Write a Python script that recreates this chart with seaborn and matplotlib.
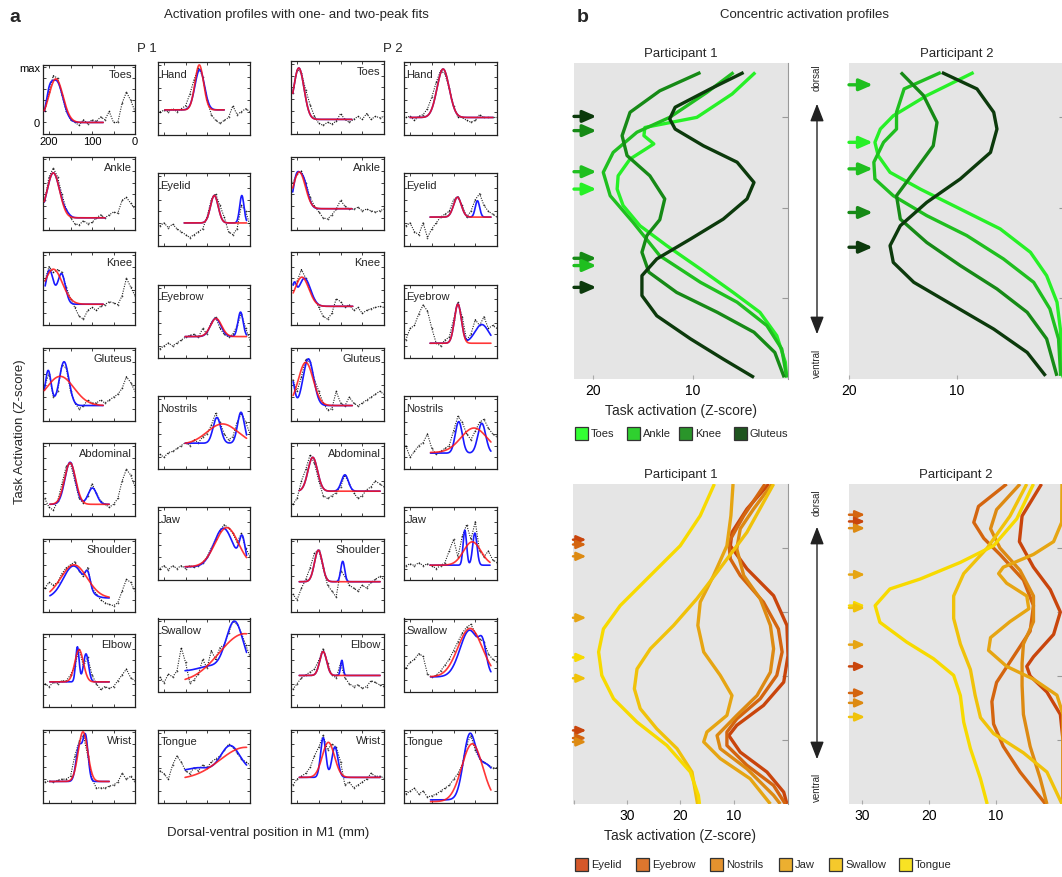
import numpy as np
import matplotlib
matplotlib.use("Agg")
import matplotlib.pyplot as plt
import seaborn as sns
from matplotlib.patches import Rectangle, FancyArrowPatch

# ======================= DATA : panel a =======================
POS_MM = [210, 200, 190, 180, 170, 160, 150, 140, 130, 120, 110,
          100, 90, 80, 70, 60, 50, 40, 30, 20, 10, 0]

BODY_NAMES = ["Toes", "Ankle", "Knee", "Gluteus", "Abdominal", "Shoulder", "Elbow", "Wrist"]
FACE_NAMES = ["Hand", "Eyelid", "Eyebrow", "Nostrils", "Jaw", "Swallow", "Tongue"]

# --- Participant 1, body column (profiles in normalised units, 0 = baseline, 1 = max)
P1_BODY_PROFILES = [
    [0.2, 0.55, 0.85, 0.8, 0.5, 0.2, 0.05, 0.0, -0.05, 0.05, -0.02, 0.05, 0.02, 0.1, 0.05, 0.2, 0.0, 0.0, 0.35, 0.55, 0.4, 0.2],
    [0.3, 0.7, 0.85, 0.7, 0.4, 0.15, 0.0, -0.1, -0.12, -0.05, -0.1, -0.08, 0.0, 0.05, 0.0, 0.05, 0.1, 0.08, 0.3, 0.35, 0.25, 0.15],
    [0.55, 0.8, 0.7, 0.75, 0.7, 0.45, 0.25, 0.1, -0.05, -0.1, 0.05, 0.1, 0.05, 0.12, 0.15, 0.2, 0.18, 0.15, 0.3, 0.6, 0.45, 0.3],
    [0.4, 0.6, 0.2, 0.3, 0.75, 0.7, 0.3, 0.1, 0.0, 0.05, 0.15, 0.1, 0.1, 0.15, 0.1, 0.15, 0.2, 0.25, 0.35, 0.55, 0.45, 0.3],
    [0.1, -0.05, -0.1, 0.05, 0.35, 0.65, 0.7, 0.4, 0.1, 0.02, 0.15, 0.35, 0.2, 0.05, 0.0, -0.05, 0.0, 0.1, 0.4, 0.6, 0.5, 0.3],
    [0.2, 0.3, 0.25, 0.3, 0.45, 0.55, 0.6, 0.65, 0.5, 0.4, 0.55, 0.2, 0.1, 0.0, -0.05, -0.08, -0.1, -0.05, 0.15, 0.35, 0.3, 0.15],
    [0.2, 0.15, 0.22, 0.2, 0.25, 0.25, 0.35, 0.5, 0.8, 0.5, 0.65, 0.35, 0.2, 0.1, 0.15, 0.12, 0.15, 0.25, 0.35, 0.45, 0.3, 0.25],
    [0.15, 0.17, 0.15, 0.18, 0.2, 0.2, 0.25, 0.6, 0.85, 0.95, 0.6, 0.2, 0.05, 0.05, 0.05, 0.08, 0.1, 0.15, 0.3, 0.2, 0.25, 0.15],
]
# one-peak fits: baseline, amplitude, centre (mm), width (mm)
P1_BODY_RED = [
    [0, 0.79, 184, 16.6], [0, 0.77, 190, 14.7], [0.156, 0.6, 190, 21], [0.056, 0.5, 174, 32],
    [0, 0.71, 151, 13], [0.03, 0.57, 142, 30.7], [0.23, 0.55, 130, 10], [0.16, 0.85, 121, 11],
]
# two-peak fits: baseline, amp1, centre1, width1, amp2, centre2, width2
P1_BODY_BLUE = [
    [0, 0.75, 183, 15, 0.25, 200, 7], [0, 0.77, 190, 14.5, 0.05, 160, 8],
    [0.156, 0.58, 199, 9, 0.52, 171, 9], [0.056, 0.6, 202, 7, 0.75, 165, 11],
    [0, 0.72, 151, 12, 0.28, 99, 10], [0.03, 0.55, 143, 24, 0.25, 110, 6],
    [0.23, 0.6, 134, 4, 0.48, 114, 6], [0.16, 0.6, 130, 7, 0.75, 115, 6],
]
P1_BODY_RANGE = [[211, 74], [211, 70], [209, 74], [211, 74], [198, 60], [198, 60], [198, 60], [198, 60]]

# --- Participant 1, face column
P1_FACE_PROFILES = [
    [0.2, 0.22, 0.2, 0.25, 0.2, 0.25, 0.3, 0.5, 0.75, 0.95, 0.8, 0.4, 0.15, 0.05, 0.0, 0.05, 0.1, 0.3, 0.15, 0.2, 0.25, 0.2],
    [0.15, 0.2, 0.12, 0.18, 0.1, 0.05, 0.0, -0.05, 0.0, 0.05, 0.1, 0.3, 0.6, 0.7, 0.5, 0.3, 0.05, 0.0, 0.1, 0.5, 0.4, 0.15],
    [-0.05, 0.0, 0.05, 0.0, 0.05, 0.1, 0.15, 0.18, 0.2, 0.15, 0.3, 0.2, 0.4, 0.5, 0.3, 0.2, 0.15, 0.2, 0.35, 0.55, 0.3, 0.1],
    [0.05, 0.0, 0.08, 0.1, 0.15, 0.2, 0.25, 0.2, 0.3, 0.25, 0.35, 0.4, 0.55, 0.75, 0.6, 0.4, 0.3, 0.35, 0.6, 0.75, 0.6, 0.4],
    [0.0, 0.05, -0.02, 0.05, 0.0, 0.05, 0.0, 0.05, 0.02, 0.05, 0.1, 0.2, 0.35, 0.5, 0.65, 0.75, 0.7, 0.6, 0.45, 0.6, 0.35, 0.2],
    [0.05, -0.05, 0.1, 0.05, 0.15, 0.55, 0.3, -0.05, 0.0, 0.1, 0.35, 0.2, 0.5, 0.35, 0.55, 0.6, 0.8, 1.0, 0.95, 0.8, 0.6, 0.4],
    [0.35, 0.3, 0.2, 0.45, 0.6, 0.5, 0.35, 0.3, 0.4, 0.35, 0.45, 0.4, 0.5, 0.55, 0.6, 0.7, 0.8, 0.75, 0.65, 0.55, 0.5, 0.45],
]
P1_FACE_RED = [
    [0.23, 0.77, 118, 10], [0.2, 0.47, 83, 9], [0.16, 0.31, 79, 13], [0.22, 0.35, 64, 36],
    [0.03, 0.67, 54, 27], [-0.05, 0.84, 12, 60], [0.2, 0.55, 10, 60],
]
P1_FACE_BLUE = [
    [0.23, 0.69, 117, 11, 0.0, 60, 5], [0.2, 0.47, 83, 9, 0.47, 19, 5],
    [0.16, 0.31, 80, 12, 0.42, 22, 6], [0.24, 0.44, 77, 9, 0.53, 21, 8],
    [0.03, 0.66, 62, 22, 0.45, 18, 7], [0.15, 0.85, 36, 20, 0.08, 95, 25],
    [0.35, 0.43, 46, 22, 0.05, 120, 20],
]
P1_FACE_RANGE = [[198, 60], [153, 8], [151, 8], [151, 8], [151, 8], [151, 8], [151, 8]]

# --- Participant 2, body column
P2_BODY_PROFILES = [
    [0.5, 0.9, 0.85, 0.55, 0.3, 0.1, -0.02, -0.05, 0.0, -0.03, 0.02, 0.15, 0.05, 0.0, 0.05, 0.1, 0.05, 0.15, 0.05, 0.1, 0.08, 0.1],
    [0.6, 0.75, 0.8, 0.6, 0.35, 0.2, 0.1, 0.0, -0.02, 0.05, 0.15, 0.3, 0.2, 0.15, 0.15, 0.18, 0.12, 0.15, 0.12, 0.1, 0.12, 0.15],
    [0.5, 0.55, 0.75, 0.6, 0.4, 0.25, 0.1, -0.05, -0.1, 0.0, 0.25, 0.2, 0.1, 0.15, 0.05, 0.1, 0.0, 0.05, 0.08, 0.1, 0.12, 0.1],
    [0.5, 0.3, 0.55, 0.85, 0.8, 0.5, 0.3, 0.1, -0.02, 0.0, 0.3, 0.1, 0.05, 0.2, 0.1, 0.05, 0.1, 0.15, 0.2, 0.25, 0.3, 0.25],
    [0.0, 0.1, 0.4, 0.6, 0.85, 0.7, 0.4, 0.15, 0.1, 0.15, 0.2, 0.3, 0.5, 0.35, 0.2, 0.1, 0.15, 0.25, 0.3, 0.4, 0.35, 0.3],
    [0.1, 0.0, 0.2, 0.35, 0.55, 0.8, 0.85, 0.55, 0.25, 0.15, 0.05, 0.5, 0.4, 0.25, 0.2, 0.15, 0.25, 0.2, 0.3, 0.35, 0.4, 0.35],
    [0.1, 0.2, 0.3, 0.35, 0.4, 0.45, 0.6, 0.8, 0.55, 0.35, 0.3, 0.55, 0.3, 0.2, 0.15, 0.18, 0.12, 0.15, 0.25, 0.22, 0.18, 0.15],
    [0.1, 0.2, 0.25, 0.3, 0.4, 0.6, 0.75, 0.95, 0.7, 0.8, 0.75, 0.5, 0.1, 0.15, 0.05, 0.1, 0.15, 0.2, 0.3, 0.25, 0.25, 0.22],
]
P2_BODY_RED = [
    [0.05, 0.88, 196, 12], [0.156, 0.63, 195, 14], [0.12, 0.5, 189, 16], [0.056, 0.74, 180, 17],
    [0.225, 0.58, 164, 11], [0.31, 0.54, 151, 9], [0.34, 0.41, 140, 8], [0.23, 0.6, 128, 14],
]
P2_BODY_BLUE = [
    [0.05, 0.88, 196, 12, 0.0, 150, 5], [0.156, 0.35, 203, 7, 0.55, 188, 11],
    [0.12, 0.48, 183, 14, 0.3, 207, 5], [0.056, 0.8, 174, 12, 0.45, 212, 6],
    [0.225, 0.58, 164, 11, 0.28, 90, 8], [0.31, 0.54, 151, 9, 0.35, 95, 4.5],
    [0.34, 0.41, 140, 8, 0.26, 97, 3], [0.23, 0.68, 140, 6, 0.52, 113, 7],
]
P2_BODY_RANGE = [[210, 74], [210, 74], [209, 72], [209, 73], [195, 9], [195, 9], [195, 9], [195, 9]]

# --- Participant 2, face column
P2_FACE_PROFILES = [
    [0.1, 0.12, 0.05, 0.12, 0.15, 0.25, 0.45, 0.7, 0.9, 0.85, 0.6, 0.3, 0.1, 0.1, 0.05, 0.02, 0.05, 0.15, 0.1, 0.1, 0.1, 0.1],
    [0.15, 0.2, 0.05, 0.0, 0.2, -0.05, 0.1, 0.2, 0.3, 0.35, 0.4, 0.6, 0.65, 0.5, 0.3, 0.4, 0.6, 0.7, 0.5, 0.4, 0.35, 0.3],
    [0.1, 0.3, 0.35, 0.55, 0.7, 0.6, 0.3, 0.05, 0.0, 0.1, 0.15, 0.45, 0.75, 0.5, 0.1, 0.2, 0.45, 0.35, 0.5, 0.3, 0.35, 0.3],
    [0.2, 0.0, 0.1, 0.2, 0.25, 0.4, 0.15, 0.05, 0.1, 0.15, 0.2, 0.45, 0.7, 0.6, 0.4, 0.3, 0.45, 0.6, 0.65, 0.5, 0.4, 0.35],
    [0.05, 0.08, 0.05, 0.1, 0.05, 0.08, 0.05, 0.0, 0.05, 0.1, 0.3, 0.5, 0.2, 0.55, 0.75, 0.5, 0.8, 0.3, 0.2, 0.3, 0.15, 0.1],
    [0.2, 0.3, 0.35, 0.45, 0.4, 0.1, 0.05, 0.08, 0.15, 0.25, 0.35, 0.5, 0.65, 0.8, 0.9, 0.95, 0.8, 0.7, 0.65, 0.45, 0.35, 0.3],
    [-0.05, 0.0, 0.05, -0.05, 0.0, -0.1, -0.08, -0.05, 0.0, 0.05, 0.1, 0.2, 0.3, 0.45, 0.8, 0.95, 0.7, 0.55, 0.5, 0.45, 0.4, 0.4],
]
P2_FACE_RED = [
    [0.1, 0.83, 124, 14], [0.3, 0.34, 91, 9], [0.046, 0.67, 90, 8], [0.08, 0.42, 53, 30],
    [0.057, 0.4, 57, 20], [0.05, 0.83, 62, 28], [-0.18, 0.99, 57, 24],
]
P2_FACE_BLUE = [
    [0.1, 0.83, 124, 14, 0.0, 60, 5], [0.3, 0.34, 91, 9, 0.28, 45, 5],
    [0.046, 0.67, 90, 8, 0.32, 35, 16], [0.07, 0.54, 88, 8, 0.51, 35, 9],
    [0.057, 0.6, 74, 4, 0.55, 51, 5], [0.05, 0.8, 63, 22, 0.35, 33, 8],
    [-0.15, 0.95, 64, 14, 0.6, 25, 25],
]
P2_FACE_RANGE = [[200, 10], [154, 14], [154, 14], [153, 14], [154, 16], [153, 14], [153, 14]]

A_XTICKS = [200, 150, 100, 50, 0]
A_XTICKLABELS = ["200", "", "100", "", "0"]
A_YTICKS = [0, 0.2, 0.4, 0.6, 0.8, 1.0]
A_YTICKLABELS = ["0", "", "", "", "", "max"]

# ======================= DATA : panel b =======================
LIMB_NAMES = ["Toes", "Ankle", "Knee", "Gluteus"]
LIMB_COLORS = ["#27f027", "#1fbf1f", "#168a16", "#0c3a0c"]
LIMB_LEGEND_COLORS = ["#33ff33", "#2fd02f", "#2a952a", "#1f551f"]
FACE_B_NAMES = ["Eyelid", "Eyebrow", "Nostrils", "Jaw", "Swallow", "Tongue"]
FACE_B_COLORS = ["#c9450c", "#d4650f", "#dd8a12", "#e6a512", "#f0c20a", "#f7da00"]
FACE_B_LEGEND_COLORS = ["#d5582a", "#dc762e", "#e4922e", "#ecaf30", "#f5c92c", "#f8e224"]

# position along the strip: 0 = dorsal end, 100 = ventral end ; values = Z-score
B_TOP_P1_POS = [
    [3, 9.8, 17.2, 20.4, 23, 25.6, 30.4, 35.7, 39.9, 45.1, 51.5, 57.8, 65.2, 72.6, 78.9, 86.3, 94.7, 99.5],
    [3, 9.3, 17.2, 21.9, 28.3, 34.6, 42, 50.4, 61, 69.4, 75.7, 83.1, 90.5, 99.5],
    [3, 8.8, 15.6, 23, 29.3, 35.7, 43, 49.6, 54.6, 59.9, 66.2, 72.6, 78.9, 85.2, 91.6, 99.5],
    [3, 8.2, 14, 17.7, 20.9, 26.2, 31.4, 37.8, 43, 49.4, 55.7, 62, 67.3, 73.6, 80, 87.3, 93.7, 99.5],
]
B_TOP_P1_Z = [
    [3.67, 6.0, 9.56, 14.8, 14.9, 13.9, 16.3, 17.5, 17.6, 17.0, 15.3, 12.6, 9.2, 5.9, 3.2, 1.5, 0.64, 0.5],
    [5.86, 8.55, 12.3, 15.6, 18.0, 19.0, 18.3, 16.0, 13.3, 9.2, 5.5, 2.5, 1.0, 0.5],
    [9.2, 13.3, 16.3, 17.1, 16.6, 14.3, 12.8, 13.3, 14.6, 15.1, 14.4, 11.6, 7.5, 3.8, 1.7, 0.75],
    [4.85, 8.2, 11.75, 12.3, 11.75, 8.9, 5.5, 3.8, 4.5, 6.9, 10.2, 13.6, 15.1, 15.1, 13.6, 10.2, 6.9, 3.8],
]
B_TOP_P1_ARROW_POS = [16.9, 21.4, 34.4, 39.9, 61.8, 64.1, 71.0]
B_TOP_P1_ARROW_CAT = ["Gluteus", "Knee", "Ankle", "Toes", "Knee", "Ankle", "Gluteus"]

B_TOP_P2_POS = [
    [3, 10.3, 16.7, 20.9, 25.1, 29.3, 34.6, 39.9, 46.2, 52.5, 59.9, 67.3, 75.7, 84.2, 92, 99.5],
    [3, 8.2, 15.6, 20.9, 25.1, 31.4, 36.7, 42, 48.3, 54.6, 62, 69.4, 77.8, 87.3, 99],
    [3, 10.3, 18.8, 26.2, 34.6, 42, 49.4, 56.8, 64.1, 71.5, 78.9, 87.3, 99],
    [3, 8.2, 15.6, 20.9, 28.3, 36.7, 44.1, 51.5, 57.8, 63.1, 69.4, 76.8, 84.2, 91.6, 99],
]
B_TOP_P2_Z = [
    [8.46, 12.8, 15.9, 17.1, 17.6, 17.3, 16.2, 13.4, 9.7, 6.0, 3.2, 1.7, 0.74, 0.43, 0.3, 0.2],
    [11.5, 14.9, 15.6, 15.6, 16.8, 17.7, 17.6, 15.9, 12.8, 9.1, 5.7, 2.9, 1.4, 0.6, 0.4],
    [15.2, 13.1, 11.85, 12.2, 14.0, 15.6, 15.25, 12.8, 9.7, 6.3, 3.5, 1.7, 0.75],
    [11.4, 8.15, 6.6, 6.3, 6.9, 9.7, 12.8, 15.25, 16.2, 15.9, 14.0, 10.3, 6.6, 3.5, 1.8],
]
B_TOP_P2_ARROW_POS = [6.9, 25.1, 33.5, 47.3, 58.3]
B_TOP_P2_ARROW_CAT = ["Ankle", "Toes", "Ankle", "Knee", "Gluteus"]

B_BOT_P1_POS = [
    [0, 7.8, 15.1, 19.3, 26.5, 34.9, 44.2, 53.6, 61.9, 69.2, 75.4, 78.6, 83.8, 90, 96.3, 100],
    [0, 9.9, 18.2, 23.4, 28.6, 36.9, 45.3, 52.5, 59.8, 67.1, 73.4, 77.5, 81.7, 87.9, 94.2, 100],
    [0, 7.8, 14, 20.3, 28.6, 35.9, 44.2, 51.5, 58.8, 66.1, 72.3, 78.6, 82.7, 89, 97.3, 100],
    [0, 9.9, 19.3, 28.6, 36.9, 44.2, 52.5, 59.8, 66.1, 72.3, 77.5, 80.6, 85.8, 92.1, 100],
    [0, 15.1, 27.6, 35.9, 44.2, 51.5, 57.8, 64, 70.2, 76.5, 82.7, 90, 100],
    [0, 9.9, 19.3, 28.6, 38, 45.3, 52.5, 59.8, 67.1, 74.4, 81.7, 90, 97.3, 100],
]
B_BOT_P1_Z = [
    [3.4, 7.5, 10.3, 10.6, 7.5, 2.5, 0, -0.2, 0.6, 4.4, 9.4, 10.9, 8.75, 3.75, 0.6, 0],
    [4.1, 8.1, 10.9, 10.6, 8.75, 4.4, 1.6, 0.9, 1.9, 5, 9.4, 11.25, 11.25, 7.5, 2.5, 0.3],
    [2.8, 6.25, 8.75, 9.4, 8.1, 5, 3.1, 2.5, 3.1, 5.6, 9.4, 13.1, 12.5, 7.5, 2.5, 1.25],
    [10.1, 10.5, 11.25, 13.75, 16.25, 16.7, 15.6, 12.5, 10.3, 11.25, 15, 15.6, 12.5, 6.9, 3.1],
    [2.5, 7.5, 13.1, 16.9, 21.25, 25.6, 28.1, 28.6, 27.5, 24.4, 20.6, 17.8, 16.75],
    [13.6, 16.25, 20, 25.6, 31.25, 34.4, 35.3, 34.7, 32.5, 28.1, 22.5, 18.1, 16.6, 16.4],
]
B_BOT_P1_ARROW_POS = [17.4, 18.9, 22.6, 41.8, 54.2, 60.7, 77.0, 79.4, 80.6]
B_BOT_P1_ARROW_CAT = ["Eyelid", "Eyebrow", "Nostrils", "Jaw", "Tongue", "Swallow", "Eyelid", "Eyebrow", "Nostrils"]

B_BOT_P2_POS = [
    [0, 10, 18, 26, 33, 40, 47, 54, 57, 60, 65, 72, 80, 100],
    [0, 7, 12, 17, 22, 30, 38, 46, 54, 62, 68, 75, 82, 90, 100],
    [0, 8, 14, 20, 27, 35, 43, 50, 56, 63, 72, 82, 92, 100],
    [0, 12, 18, 22, 26, 28, 31, 35, 39, 43, 48, 52, 57, 61, 66, 72, 100],
    [0, 10, 20, 28, 35, 42, 50, 58, 66, 73, 78, 84, 90, 100],
    [0, 10.9, 19.3, 24.5, 29.7, 32.8, 38, 43.2, 49.4, 54.6, 59.8, 66.1, 74.4, 82.7, 92.1, 100],
]
B_BOT_P2_Z = [
    [3.2, 6.1, 6.5, 4.4, 1.9, 0.4, 1.4, 4.4, 5.4, 4.9, 2.4, 0.4, 0.0, 0.0],
    [8.4, 12.6, 13.3, 11.8, 9.4, 5.9, 4.4, 4.9, 7.4, 9.9, 10.6, 10.35, 8.9, 6.4, 2.6],
    [6.4, 9.9, 10.8, 9.4, 6.4, 4.4, 4.4, 5.9, 6.1, 6.1, 5.9, 4.9, 3.4, 2.4],
    [0.15, 0.2, 1.4, 4.4, 8.9, 9.6, 8.4, 5.4, 5.1, 7.9, 10.8, 11.1, 8.4, 4.4, 0.9, 0.0, 0.0],
    [5.4, 7.9, 11.3, 14.8, 16.3, 16.3, 15.3, 13.8, 13.1, 12.3, 10.35, 5.9, 2.4, 0.15],
    [4.4, 6.9, 10.35, 15.3, 21.3, 25.8, 28, 27.3, 23.3, 19.3, 16.3, 15.3, 14.8, 13.8, 12.3, 11.3],
]
B_BOT_P2_ARROW_POS = [9.6, 11.7, 13.8, 28.3, 38.0, 38.7, 50.2, 57.0, 65.3, 68.4, 72.8]
B_BOT_P2_ARROW_CAT = ["Eyebrow", "Eyelid", "Nostrils", "Jaw", "Tongue", "Swallow", "Jaw", "Eyelid",
                      "Eyebrow", "Nostrils", "Swallow"]

# ======================= FIGURE =======================
sns.set_theme(style="white")
plt.rcParams["font.family"] = ["Liberation Sans", "DejaVu Sans"]
plt.rcParams["axes.unicode_minus"] = False

W, H = 1062, 878
fig = plt.figure(figsize=(W / 100, H / 100), dpi=100)
fig.patch.set_facecolor("white")


def add_ax(l, t, w, h):
    return fig.add_axes([l / W, 1 - (t + h) / H, w / W, h / H])


def ftext(x, y, s, **kw):
    return fig.text(x / W, 1 - y / H, s, **kw)


def gauss(x, a, c, s):
    return a * np.exp(-((x - c) ** 2) / (2.0 * s * s))


def small_panel(ax, name, prof, red, blue, rng, label_left, first=False):
    ax.plot(POS_MM, prof, color="black", lw=0.8, ls=(0, (1, 1.2)), alpha=0.85, zorder=1)
    ax.scatter(POS_MM, prof, s=1.5, color="black", lw=0, alpha=0.7, zorder=1)
    xs = np.linspace(rng[0], rng[1], 160)
    yb = blue[0] + gauss(xs, *blue[1:4]) + gauss(xs, *blue[4:7])
    yr = red[0] + gauss(xs, *red[1:4])
    ax.plot(xs, yb, color="#1a1aff", lw=1.2, zorder=2)
    ax.plot(xs, yr, color="#ff1414", lw=1.2, alpha=0.85, zorder=3)
    ax.set_xlim(214, 0)
    ax.set_ylim(-0.2, 1.05)
    ax.set_xticks(A_XTICKS)
    ax.set_yticks(A_YTICKS)
    ax.tick_params(direction="in", length=2.5, width=0.6, top=True, right=True, bottom=True,
                   left=True, labelsize=8, pad=2, colors="#222", labelcolor="black")
    if first:
        ax.set_xticklabels(A_XTICKLABELS)
        ax.set_yticklabels(A_YTICKLABELS)
    else:
        ax.set_xticklabels([])
        ax.set_yticklabels([])
    for s in ax.spines.values():
        s.set_linewidth(0.9)
        s.set_color("#222")
        s.set_visible(True)
    if label_left:
        ax.text(0.025, 0.84, name, transform=ax.transAxes, ha="left", va="center", fontsize=8)
    else:
        ax.text(0.965, 0.86, name, transform=ax.transAxes, ha="right", va="center", fontsize=8)


# ---- panel a layout (pixels): left, width, first top, pitch
COLUMNS = [
    (43, 92, 62.0, 95.5, BODY_NAMES, P1_BODY_PROFILES, P1_BODY_RED, P1_BODY_BLUE, P1_BODY_RANGE, False),
    (158, 92, 63.0, 111.3, FACE_NAMES, P1_FACE_PROFILES, P1_FACE_RED, P1_FACE_BLUE, P1_FACE_RANGE, True),
    (291, 93, 62.0, 95.5, BODY_NAMES, P2_BODY_PROFILES, P2_BODY_RED, P2_BODY_BLUE, P2_BODY_RANGE, False),
    (404, 93, 63.0, 111.3, FACE_NAMES, P2_FACE_PROFILES, P2_FACE_RED, P2_FACE_BLUE, P2_FACE_RANGE, True),
]
BOX_H = 73
for ci, (l, w, t0, pitch, names, profs, reds, blues, rngs, left_lab) in enumerate(COLUMNS):
    for i, nm in enumerate(names):
        t = t0 + pitch * i
        h = BOX_H
        first = (ci == 0 and i == 0)
        if first:
            t, h = 65.5, 69
        ax = add_ax(l, t, w, h)
        small_panel(ax, nm, profs[i], reds[i], blues[i], rngs[i], left_lab, first)

ftext(15, 17, "a", fontsize=14, fontweight="bold", ha="center", va="center")
ftext(296, 15, "Activation profiles with one- and two-peak fits", fontsize=9.5, ha="center", va="center")
ftext(147, 49, "P 1", fontsize=9.5, ha="center", va="center")
ftext(393, 49, "P 2", fontsize=9.5, ha="center", va="center")
ftext(20, 432, "Task Activation (Z-score)", fontsize=9.5, rotation=90, ha="center", va="center")
ftext(268, 833, "Dorsal-ventral position in M1 (mm)", fontsize=9.5, ha="center", va="center")

# ---- panel b
ftext(583, 17, "b", fontsize=14, fontweight="bold", ha="center", va="center")
ftext(805, 15, "Concentric activation profiles", fontsize=9.5, ha="center", va="center")


def concentric(ax, names, colors, pos_list, z_list, xlim, xticks, xticklabels, yticks,
               arrow_pos, arrow_cat, arrow_len, arrow_scale, arrow_lw, title, xlabel):
    ax.set_facecolor("#e5e5e5")
    cmap = dict(zip(names, colors))
    for nm, p, z in zip(names, pos_list, z_list):
        sns.lineplot(x=z, y=p, ax=ax, sort=False, estimator=None, color=cmap[nm], lw=2.4,
                     solid_joinstyle="round", solid_capstyle="butt")
    for p, cat in zip(arrow_pos, arrow_cat):
        ax.annotate("", xy=(arrow_len, p), xytext=(0.0, p),
                    xycoords=("axes fraction", "data"), textcoords=("axes fraction", "data"),
                    arrowprops=dict(arrowstyle="-|>,head_length=0.8,head_width=0.35",
                                    color=cmap[cat], lw=arrow_lw, shrinkA=0, shrinkB=0,
                                    mutation_scale=arrow_scale))
    ax.set_xlim(*xlim)
    ax.set_ylim(100, 0)
    ax.set_xticks(xticks)
    ax.set_xticklabels(xticklabels)
    ax.set_yticks(yticks)
    ax.set_yticklabels([])
    ax.yaxis.tick_right()
    ax.tick_params(axis="y", direction="in", length=4, width=0.8, color="#999999",
                   right=True, left=False)
    ax.tick_params(axis="x", direction="in", length=3, width=0.8, color="#aaaaaa",
                   bottom=True, labelsize=10, pad=3, labelcolor="black")
    for side in ["top", "left", "bottom"]:
        ax.spines[side].set_visible(False)
    ax.spines["right"].set_visible(True)
    ax.spines["right"].set_color("#999999")
    ax.spines["right"].set_linewidth(0.8)
    ax.set_title(title, fontsize=9.5, pad=5)
    ax.set_xlabel(xlabel, fontsize=10, labelpad=4)
    ax.set_ylabel("")


TOP_T, TOP_H = 64, 316
BOT_T, BOT_H = 485, 320

ax = add_ax(574, TOP_T, 214, TOP_H)
concentric(ax, LIMB_NAMES, LIMB_COLORS, B_TOP_P1_POS, B_TOP_P1_Z, (21.95, 0.37), [20, 10], ["20", "10"],
           [17.1, 45.9, 74.4], B_TOP_P1_ARROW_POS, B_TOP_P1_ARROW_CAT, 0.105, 10, 2.4,
           "Participant 1", "Task activation (Z-score)")
ax = add_ax(849, TOP_T, 216, TOP_H)
concentric(ax, LIMB_NAMES, LIMB_COLORS, B_TOP_P2_POS, B_TOP_P2_Z, (20, 0), [20, 10], ["20", "10"],
           [17.1, 45.9, 74.4], B_TOP_P2_ARROW_POS, B_TOP_P2_ARROW_CAT, 0.11, 10, 2.4,
           "Participant 2", "")
ax = add_ax(573, BOT_T, 215, BOT_H)
concentric(ax, FACE_B_NAMES, FACE_B_COLORS, B_BOT_P1_POS, B_BOT_P1_Z, (40.1, -0.2), [40, 30, 20, 10],
           ["", "30", "20", "10"], [20, 40, 60, 80], B_BOT_P1_ARROW_POS, B_BOT_P1_ARROW_CAT, 0.062, 7, 1.8,
           "Participant 1", "Task activation (Z-score)")
ax = add_ax(849, BOT_T, 214, BOT_H)
concentric(ax, FACE_B_NAMES, FACE_B_COLORS, B_BOT_P2_POS, B_BOT_P2_Z, (31.9, 0), [30, 20, 10],
           ["30", "20", "10"], [20, 40, 60, 80], B_BOT_P2_ARROW_POS, B_BOT_P2_ARROW_CAT, 0.075, 7, 1.8,
           "Participant 2", "")

# dorsal / ventral arrows
for (y0, y1, yd, yv) in [(102, 338, 78, 363), (525, 763, 503, 787)]:
    fig.add_artist(FancyArrowPatch((817 / W, 1 - y0 / H), (817 / W, 1 - y1 / H),
                                   transform=fig.transFigure, arrowstyle="<|-|>,head_length=0.9,head_width=0.35",
                                   mutation_scale=12, lw=1.0, color="#222222"))
    ftext(817, yd, "dorsal", fontsize=7, rotation=90, ha="center", va="center")
    ftext(817, yv, "ventral", fontsize=7, rotation=90, ha="center", va="center")

# legends
LIMB_LEG_X = [575, 627, 679, 734]
FACE_LEG_X = [575, 636, 710, 779, 829, 899]
for names, cols, xs, yc in [(LIMB_NAMES, LIMB_LEGEND_COLORS, LIMB_LEG_X, 434),
                            (FACE_B_NAMES, FACE_B_LEGEND_COLORS, FACE_LEG_X, 865)]:
    for nm, c, x in zip(names, cols, xs):
        fig.add_artist(Rectangle((x / W, 1 - (yc + 6.5) / H), 13 / W, 13 / H, transform=fig.transFigure,
                                 facecolor=c, edgecolor="#333333", lw=0.9))
        ftext(x + 16, yc, nm, fontsize=8, ha="left", va="center")

fig.savefig("out.png", dpi=100)
